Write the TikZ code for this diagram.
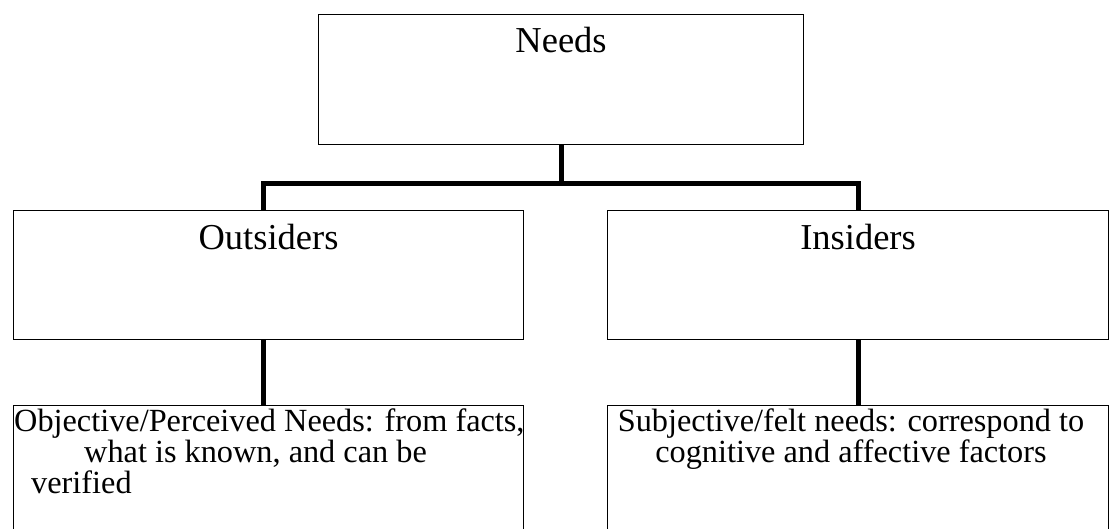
\documentclass[tikz,border=0pt]{standalone}
\usepackage{fontspec}
\setmainfont{Liberation Serif}
\begin{document}
\begin{tikzpicture}[x=1pt,y=-1pt,
  box/.style={draw, line width=1.1pt, inner sep=0pt, anchor=north west},
  conn/.style={line width=5pt, line join=miter},
  head/.style={font=\fontsize{36.5}{40}\selectfont, inner sep=0pt, anchor=base},
  body/.style={font=\fontsize{32.3}{31}\selectfont, inner sep=0pt}]
\useasboundingbox (0,0) rectangle (1109,529);
\node[box, minimum width=485pt, minimum height=130pt] (needs) at (318,14) {};
\node[box, minimum width=510pt, minimum height=129pt] (out) at (13,210) {};
\node[box, minimum width=501pt, minimum height=129pt] (ins) at (607,210) {};
\node[box, minimum width=510pt, minimum height=140pt] (obj) at (13,405) {};
\node[box, minimum width=501pt, minimum height=140pt] (subj) at (607,405) {};
\node[head] (needsT) at ([yshift=-39pt]needs.north) {Needs};
\node[head] (outT) at ([yshift=-40pt]out.north) {Outsiders};
\node[head] (insT) at ([yshift=-40pt]ins.north) {Insiders};
\node[body, align=left, anchor=north west] (objT) at (14,409)
  {Objective/Perceived Needs: from facts,\\\hspace*{70pt}what is known, and can be\\\hspace*{17pt}verified};
\node[body, align=center, anchor=north] (subjT) at (851,409)
  {Subjective/felt needs: correspond to\\cognitive and affective factors};
\coordinate (jn) at (560,184);
\draw[conn] (needs.south) -- (needs.south |- jn);
\draw[conn] ([xshift=-5pt]out.north) -- ([xshift=-5pt]out.north |- jn) -- (ins.north |- jn) -- (ins.north);
\draw[conn] ([xshift=-5pt]out.south) -- ([xshift=-5pt]obj.north);
\draw[conn] (ins.south) -- (subj.north);
\end{tikzpicture}
\end{document}
